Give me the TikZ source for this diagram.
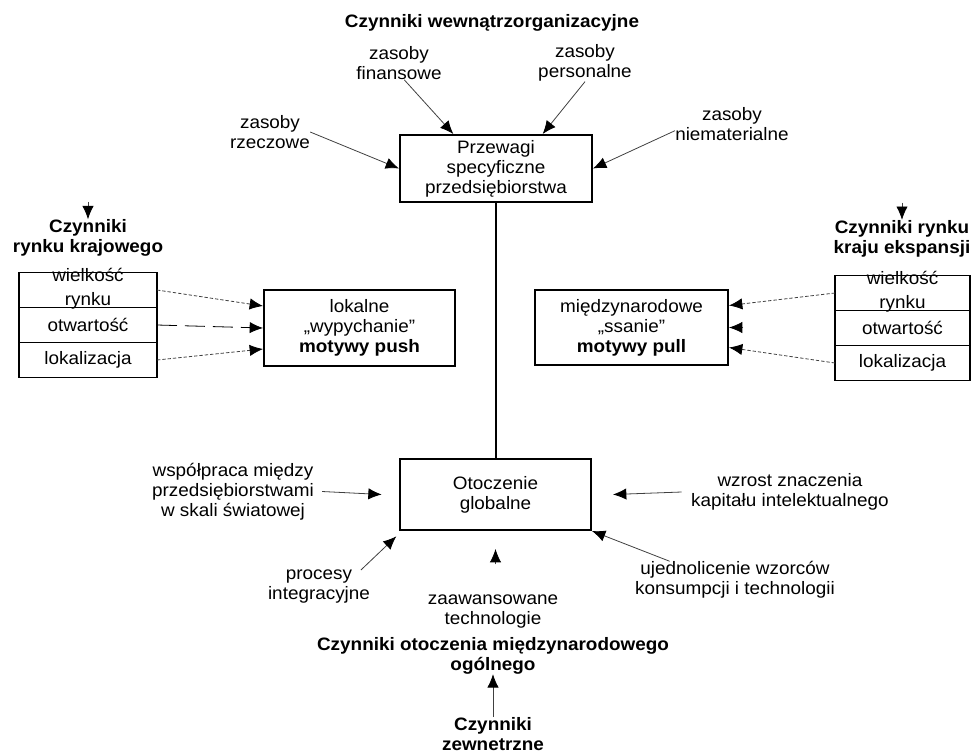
\documentclass[tikz,border=0pt]{standalone}
\usepackage{fontspec}
\setmainfont{Liberation Sans}[FakeStretch=1.05]
\usetikzlibrary{arrows.meta}
\tikzstyle{box} = [rectangle, draw=black, line width=1.5pt, align=center, inner sep=0pt]
\tikzstyle{cell} = [rectangle, draw=black, line width=1.3pt, inner sep=0pt, outer sep=0pt, align=center]
\tikzstyle{txt} = [align=center, inner sep=0pt]
\tikzstyle{head} = [align=center, inner sep=0pt, font=\bfseries]
\tikzstyle{arrow} = [draw=black!75, line width=0.6pt, -{Latex[length=10pt,width=8.5pt,black]}]
\tikzstyle{fine} = [arrow, dash pattern=on 2.5pt off 1.5pt]
\tikzstyle{longdash} = [arrow, draw=black, dash pattern=on 15pt off 6pt]
\tikzstyle{link} = [draw=black, line width=0.9pt]

\begin{document}
\fontsize{13.5}{15}\selectfont
\begin{tikzpicture}[x=0.75pt, y=-0.75pt]
\useasboundingbox (0,0) rectangle (972,754);

% czynniki wewnetrzne
\node (title) [head] at (492,23) {Czynniki wewnątrzorganizacyjne};
\node (fin) [txt] at (399,63) {zasoby\\finansowe};
\node (pers) [txt] at (585,63) {zasoby\\personalne};
\node (rzecz) [txt] at (270,132) {zasoby\\rzeczowe};
\node (niemat) [txt] at (732,124) {zasoby\\niematerialne};
\node (przewagi) [box, minimum width=144pt, minimum height=50.25pt] at (496,168.5) {Przewagi\\specyficzne\\przedsiębiorstwa};

\draw [arrow] ([xshift=4pt]fin.south) -- ([xshift=-32pt]przewagi.north);
\draw [arrow] (pers.south) -- ([xshift=35pt]przewagi.north);
\draw [arrow] (rzecz.east) -- (przewagi.west);
\draw [arrow] ([yshift=-5pt]niemat.west) -- (przewagi.east);

% rynek krajowy
\node (krajowy) [head] at (88,238) {Czynniki\\rynku krajowego};
\node (lrow1) [cell, minimum width=103.5pt, minimum height=26.25pt] at (88,290) {\raisebox{-6.75pt}{\smash{\begin{tabular}{@{}c@{}}wielkość\\[3pt]rynku\end{tabular}}}};
\node (lrow2) [cell, minimum width=103.5pt, minimum height=26.25pt, below of=lrow1, node distance=26.25pt] {otwartość};
\node (lrow3) [cell, minimum width=103.5pt, minimum height=26.25pt, below of=lrow2, node distance=26.25pt] {lokalizacja};
\node (push) [box, minimum width=143.25pt, minimum height=57pt] at (359.5,328) {lokalne\\„wypychanie”\\\textbf{motywy push}};

\draw [arrow] ([yshift=13pt]krajowy.north) -- (krajowy.north);
\draw [fine] (lrow1.east) -- ([yshift=16.5pt]push.west);
\draw [longdash] (lrow2.east) -- (push.west);
\draw [fine] (lrow3.east) -- ([yshift=-15.75pt]push.west);

% rynek kraju ekspansji
\node (ekspansja) [head] at (902,238.5) {Czynniki rynku\\kraju ekspansji};
\node (rrow1) [cell, minimum width=101.25pt, minimum height=26.25pt] at (902.5,293) {\raisebox{-6pt}{\smash{\begin{tabular}{@{}c@{}}wielkość\\[3pt]rynku\end{tabular}}}};
\node (rrow2) [cell, minimum width=101.25pt, minimum height=26.25pt, below of=rrow1, node distance=26.25pt] {otwartość};
\node (rrow3) [cell, minimum width=101.25pt, minimum height=26.25pt, below of=rrow2, node distance=26.25pt] {lokalizacja};
\node (pull) [box, minimum width=144.75pt, minimum height=56.25pt] at (631.5,327.5) {międzynarodowe\\„ssanie”\\\textbf{motywy pull}};

\draw [arrow] ([yshift=13pt]ekspansja.north) -- (ekspansja.north);
\draw [fine] (rrow1.west) -- ([yshift=16.5pt]pull.east);
\draw [arrow] ([xshift=10.5pt]pull.east) -- (pull.east);
\draw [fine] (rrow3.west) -- ([yshift=-15pt]pull.east);

% otoczenie globalne
\node (otoczenie) [box, minimum width=143.25pt, minimum height=53.25pt] at (495.5,494.5) {Otoczenie\\globalne};
\draw [link] (przewagi.south) -- (przewagi.south |- otoczenie.north);

\node (wsp) [txt] at (233,491.5) {współpraca między\\przedsiębiorstwami\\w skali światowej};
\node (proc) [txt] at (319,587) {procesy\\integracyjne};
\node (wzrost) [txt] at (790,492) {wzrost znaczenia\\kapitału intelektualnego};
\node (ujedn) [txt] at (735,580) {ujednolicenie wzorców\\konsumpcji i technologii};
\node (zaaw) [txt] at (493,611.5) {zaawansowane\\technologie};
\node (ogolne) [head] at (493,655.5) {Czynniki otoczenia międzynarodowego\\ogólnego};
\node (zewn) [head] at (493,734) {Czynniki\\zewnetrzne};

\draw [arrow] ([xshift=6pt]wsp.east) -- ([xshift=-13pt]otoczenie.west);
\draw [arrow] ([xshift=-7pt]proc.north east) -- ([shift={(-2pt,-4pt)}]otoczenie.south west);
\draw [arrow] ([xshift=-7pt]wzrost.west) -- ([xshift=15.75pt]otoczenie.east);
\draw [arrow] ([xshift=26pt]ujedn.north west) -- (otoczenie.south east);
\draw [arrow] ([yshift=-25pt]otoczenie.south) -- ([yshift=-13.5pt]otoczenie.south);
\draw [arrow] (zewn.north) -- (ogolne.south);
\end{tikzpicture}
\end{document}
